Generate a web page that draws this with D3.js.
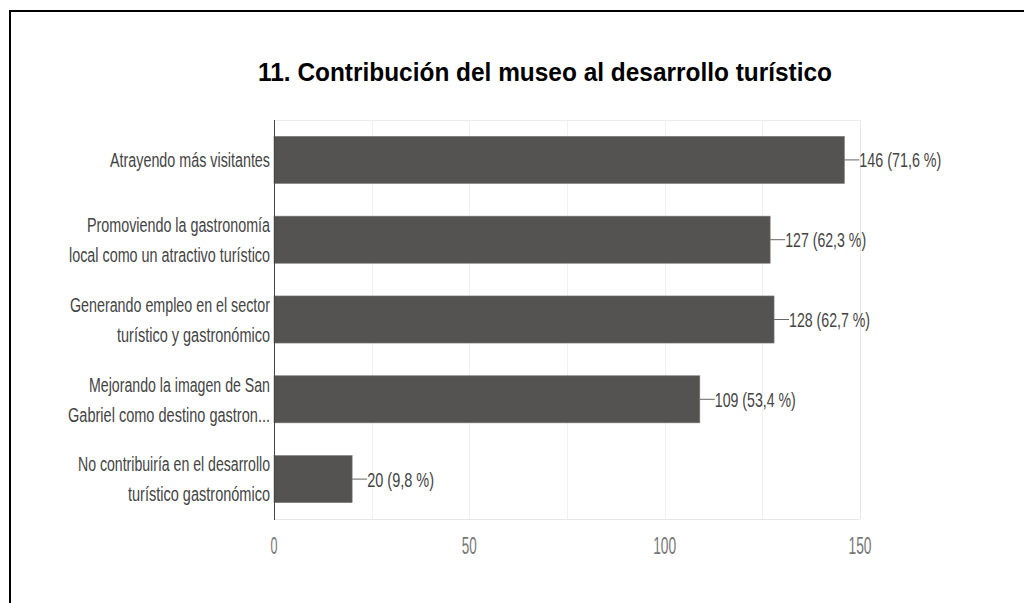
<!DOCTYPE html>
<head>
<meta charset="utf-8">
<script src="https://cdn.jsdelivr.net/npm/d3@7/dist/d3.min.js"></script>
<style>
body { margin: 0; background: #fff; }
text { font-family: "Liberation Sans", Arial, sans-serif; }
</style>
</head>
<body>
<script>

// data
var categories = [
    ["Atrayendo más visitantes"],
    ["Promoviendo la gastronomía", "local como un atractivo turístico"],
    ["Generando empleo en el sector", "turístico y gastronómico"],
    ["Mejorando la imagen de San", "Gabriel como destino gastron..."],
    ["No contribuiría en el desarrollo", "turístico gastronómico"]
];
var values   = [146, 127, 128, 109, 20];
var percents = ["71,6", "62,3", "62,7", "53,4", "9,8"];
var ticks    = [0, 50, 100, 150];
var gridTicks = [25, 50, 75, 100, 125, 150];

// measured widths of the (condensed) text in the picture
var labelWidths = [[160], [183, 201], [200, 153], [181, 202], [192, 142]];
var valueWidths = [82, 81, 81, 81, 67];
var tickWidths  = [7, 15, 23, 23];

var width = 1024, height = 603;
var plot = {left: 274, right: 860, top: 120, bottom: 519};

var svg = d3.select("body").append("svg")
    .attr("width", width)
    .attr("height", height);

// outer frame
svg.append("rect")
    .attr("x", 10).attr("y", 11)
    .attr("width", 1100).attr("height", 700)
    .attr("fill", "none")
    .attr("stroke", "#000")
    .attr("stroke-width", 2);

// Title
svg.append("text")
    .attr("x", 258)
    .attr("y", 81)
    .attr("textLength", 574)
    .attr("lengthAdjust", "spacingAndGlyphs")
    .style("font-size", "25px")
    .style("font-weight", "bold")
    .style("fill", "#000")
    .text("11. Contribución del museo al desarrollo turístico");

var x = d3.scaleLinear()
    .domain([0, 150])
    .range([plot.left, plot.right]);

var y = d3.scaleBand()
    .domain(d3.range(categories.length))
    .range([plot.top, plot.bottom])
    .paddingInner(0.41)
    .paddingOuter(0.205);

// grid + frame of plot area
svg.append("line")
    .attr("x1", plot.left).attr("x2", plot.right)
    .attr("y1", plot.top + 0.5).attr("y2", plot.top + 0.5)
    .attr("stroke", "#ececec");
svg.append("line")
    .attr("x1", plot.left).attr("x2", plot.right)
    .attr("y1", plot.bottom + 0.5).attr("y2", plot.bottom + 0.5)
    .attr("stroke", "#e6e6e6");
svg.selectAll(".grid")
    .data(gridTicks)
    .enter().append("line")
    .attr("class", "grid")
    .attr("x1", d => Math.round(x(d)) + 0.5)
    .attr("x2", d => Math.round(x(d)) + 0.5)
    .attr("y1", plot.top)
    .attr("y2", plot.bottom)
    .attr("stroke", d => d == 150 ? "#e6e6e6" : "#f0f0f0");

// bars
svg.selectAll(".bar")
    .data(values)
    .enter().append("rect")
    .attr("class", "bar")
    .attr("x", x(0))
    .attr("y", (d, i) => y(i))
    .attr("width", d => x(d) - x(0))
    .attr("height", y.bandwidth())
    .attr("fill", "#555351")
    .attr("stroke", "#7a7876")
    .attr("stroke-width", 0.6);

// y axis line
svg.append("line")
    .attr("x1", plot.left + 0.5).attr("x2", plot.left + 0.5)
    .attr("y1", plot.top).attr("y2", plot.bottom + 1)
    .attr("stroke", "#444");

// leader lines + value labels
svg.selectAll(".leader")
    .data(values)
    .enter().append("line")
    .attr("class", "leader")
    .attr("x1", d => x(d))
    .attr("x2", d => x(d) + 15)
    .attr("y1", (d, i) => y(i) + y.bandwidth() / 2)
    .attr("y2", (d, i) => y(i) + y.bandwidth() / 2)
    .attr("stroke", "#666");

svg.selectAll(".val")
    .data(values)
    .enter().append("text")
    .attr("class", "val")
    .attr("x", d => x(d) + 15)
    .attr("y", (d, i) => y(i) + y.bandwidth() / 2)
    .attr("dy", "0.36em")
    .attr("textLength", (d, i) => valueWidths[i])
    .attr("lengthAdjust", "spacingAndGlyphs")
    .style("font-size", "21px")
    .style("fill", "#444")
    .text((d, i) => d + " (" + percents[i] + " %)");

// category labels
var lineGap = 30;
categories.forEach(function(lines, i) {
    var cy = y(i) + y.bandwidth() / 2;
    lines.forEach(function(line, j) {
        svg.append("text")
            .attr("x", 270 - labelWidths[i][j])
            .attr("y", cy + (j - (lines.length - 1) / 2) * lineGap)
            .attr("dy", "0.36em")
            .attr("textLength", labelWidths[i][j])
            .attr("lengthAdjust", "spacingAndGlyphs")
            .style("font-size", "20px")
            .style("fill", "#444")
            .text(line);
    });
});

// x tick labels
svg.selectAll(".tick")
    .data(ticks)
    .enter().append("text")
    .attr("class", "tick")
    .attr("x", (d, i) => x(d) - tickWidths[i] / 2)
    .attr("y", 546)
    .attr("dy", "0.36em")
    .attr("textLength", (d, i) => tickWidths[i])
    .attr("lengthAdjust", "spacingAndGlyphs")
    .style("font-size", "23px")
    .style("fill", "#777")
    .text(d => d);

</script>
</body>
</html>
